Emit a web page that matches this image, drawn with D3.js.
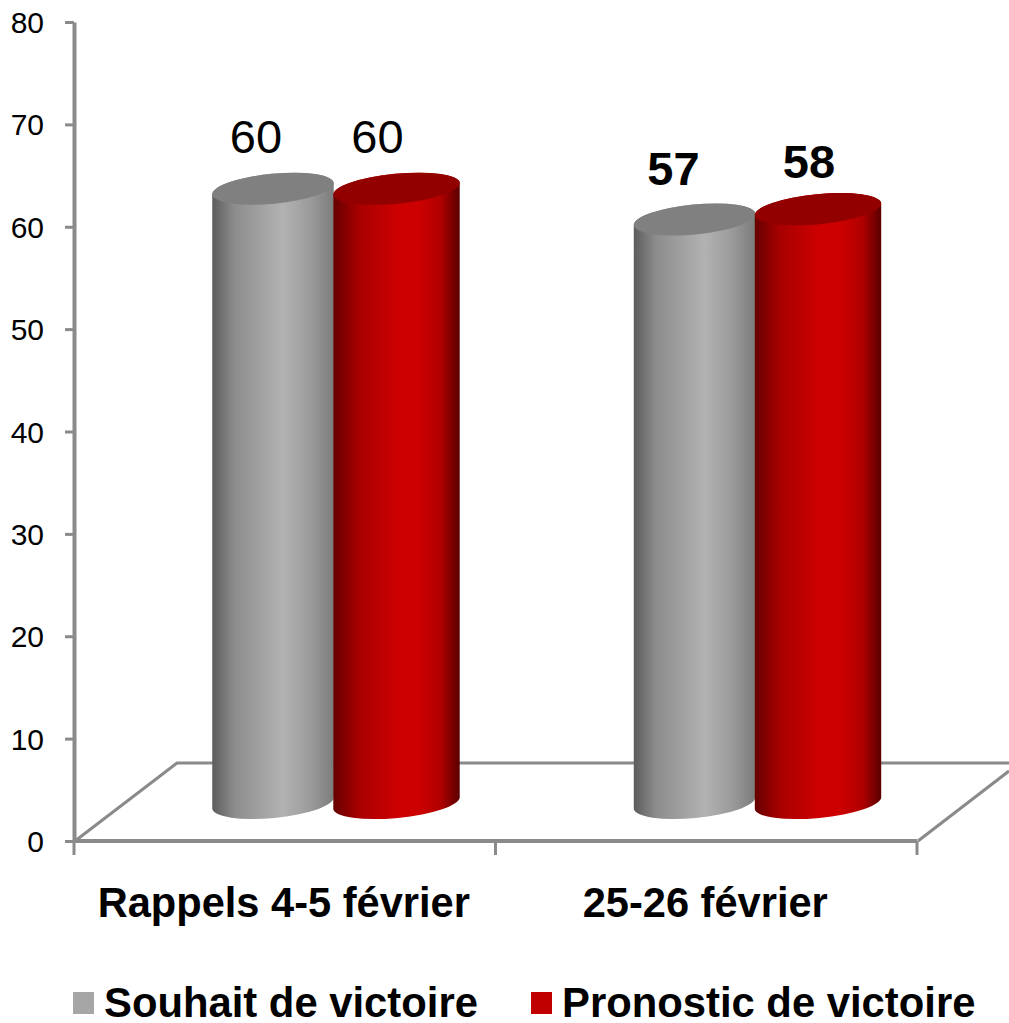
<!DOCTYPE html>
<html>
<head>
<meta charset="utf-8">
<script src="https://cdn.jsdelivr.net/npm/d3@7"></script>
<style>
  html, body { margin: 0; padding: 0; background: #fff; }
  text { font-family: "Liberation Sans", Arial, sans-serif; fill: #000; }
</style>
</head>
<body>
<div id="chart"></div>
<script>
var categories = ["Rappels 4-5 février", "25-26 février"];
var seriesNames = ["Souhait de victoire", "Pronostic de victoire"];
var souhait = [60, 57];
var pronostic = [60, 58];
var yTicks = [0, 10, 20, 30, 40, 50, 60, 70, 80];

function init(){
    var w = 1009, h = 1023;
    var axisColor = "#8a8a8a";
    var depthY = 38;     // the bars stand this far up the floor
    var tilt = 5.5;      // rotation of the ellipses
    var ry = 15;

    var svg = d3.select("#chart").append("svg")
                .attr("width", w).attr("height", h)
                .style("display", "block");

    var y = d3.scaleLinear().domain([0, 80]).range([841, 22]);
    var x = d3.scaleBand().domain(categories).range([74, 917]);
    var xSeries = d3.scaleBand().domain(seriesNames).range([138, 380]);

    // gradients for the cylinders
    var defs = svg.append("defs");
    var grads = [
        {id: "g0", stops: [[0, "#5c5c5c"], [0.18, "#8c8c8c"], [0.58, "#b2b2b2"], [0.8, "#9c9c9c"], [1, "#7c7c7c"]], top: "#808080", flat: "#a6a6a6"},
        {id: "g1", stops: [[0, "#660000"], [0.2, "#a80000"], [0.5, "#cc0000"], [0.68, "#cc0000"], [0.85, "#b00000"], [1, "#5a0000"]], top: "#930000", flat: "#c00000"}
    ];
    grads.forEach(function(g){
        var lg = defs.append("linearGradient").attr("id", g.id);
        g.stops.forEach(function(s){
            lg.append("stop").attr("offset", s[0]).attr("stop-color", s[1]);
        });
    });

    // floor
    var floor = [
        [[75, 841], [177, 763], [1009, 763]],
        [[918, 841], [1009, 771]]
    ];
    svg.selectAll("path.floor").data(floor).enter().append("path")
        .attr("class", "floor")
        .attr("d", d3.line())
        .attr("fill", "none")
        .attr("stroke", axisColor)
        .attr("stroke-width", 3);

    // axes
    var yAxis = svg.append("g").attr("transform", "translate(74,0)")
        .call(d3.axisLeft(y).tickValues(yTicks).tickSize(9).tickSizeOuter(0).tickPadding(21));
    yAxis.selectAll("text").style("font-size", "30px").attr("fill", "#000").attr("y", 1);
    yAxis.selectAll("line").attr("stroke", axisColor).attr("stroke-width", 3);
    yAxis.select(".domain").attr("stroke", axisColor).attr("stroke-width", 4);

    var xTicks = categories.map(function(c){ return x(c); }).concat([x.range()[1]]);
    var xAxis = svg.append("g").attr("transform", "translate(0," + y(0) + ")");
    xAxis.append("line").attr("x1", x.range()[0]).attr("x2", x.range()[1])
        .attr("stroke", axisColor).attr("stroke-width", 4);
    xAxis.selectAll("line.tick").data(xTicks).enter().append("line")
        .attr("class", "tick")
        .attr("x1", function(d){ return d; }).attr("x2", function(d){ return d; })
        .attr("y1", 0).attr("y2", 14)
        .attr("stroke", axisColor).attr("stroke-width", 3);

    // bars, flattened so each one knows its series and category
    var bars = [];
    categories.forEach(function(c, i){
        bars.push({cat: c, catIndex: i, s: 0, value: souhait[i]});
        bars.push({cat: c, catIndex: i, s: 1, value: pronostic[i]});
    });

    var rad = tilt * Math.PI / 180;

    var groups = svg.selectAll("g.bar").data(bars).enter().append("g").attr("class", "bar");

    function geom(d){
        var bw = d.s ? 127 : 122; // the red ones come out a little wider
        var left = x(d.cat) + xSeries(seriesNames[d.s]);
        var rx = bw / 2;
        return {
            cx: left + rx, rx: rx,
            dx: rx * Math.cos(rad), dy: rx * Math.sin(rad),
            top: y(d.value) - depthY, bottom: y(0) - depthY
        };
    }

    groups.append("path")
        .attr("fill", function(d){ return "url(#g" + d.s + ")"; })
        .attr("d", function(d){
            var g = geom(d);
            return "M" + (g.cx - g.dx) + "," + (g.top + g.dy) +
                   "L" + (g.cx - g.dx) + "," + (g.bottom + g.dy) +
                   "A" + g.rx + "," + ry + " " + (-tilt) + " 0 0 " + (g.cx + g.dx) + "," + (g.bottom - g.dy) +
                   "L" + (g.cx + g.dx) + "," + (g.top - g.dy) +
                   "A" + g.rx + "," + ry + " " + (-tilt) + " 0 0 " + (g.cx - g.dx) + "," + (g.top + g.dy) + "Z";
        });

    groups.append("ellipse")
        .attr("fill", function(d){ return grads[d.s].top; })
        .attr("rx", function(d){ return geom(d).rx; })
        .attr("ry", ry)
        .attr("transform", function(d){
            var g = geom(d);
            return "translate(" + g.cx + "," + g.top + ") rotate(" + (-tilt) + ")";
        });

    // value labels: nudges by hand, the original sits them unevenly
    var nudgeX = [-17, -19, -21, -9];
    var nudgeY = [-74, -74, -72, -69];
    svg.selectAll("text.value").data(bars).enter().append("text")
        .attr("class", "value")
        .attr("x", function(d, i){ return geom(d).cx + nudgeX[i]; })
        .attr("y", function(d, i){ return y(d.value) + nudgeY[i]; })
        .attr("text-anchor", "middle")
        .style("font-size", "47px")
        .style("font-weight", function(d){ return d.catIndex ? "bold" : "normal"; })
        .text(function(d){ return d.value; });

    // category labels
    svg.selectAll("text.cat").data(categories).enter().append("text")
        .attr("class", "cat")
        .attr("x", function(d){ return x(d) + x.bandwidth() / 2 - 1; })
        .attr("y", 917)
        .attr("text-anchor", "middle")
        .style("font-size", "41.6px")
        .style("font-weight", "bold")
        .text(function(d){ return d; });

    // legend
    var legendX = [73, 531];
    var legend = svg.selectAll("g.legend").data(seriesNames).enter().append("g")
        .attr("class", "legend")
        .attr("transform", function(d, i){ return "translate(" + legendX[i] + ",0)"; });
    legend.append("rect")
        .attr("y", 992).attr("width", 21).attr("height", 22)
        .attr("fill", function(d, i){ return grads[i].flat; });
    legend.append("text")
        .attr("x", 31).attr("y", 1017)
        .style("font-size", "41.8px")
        .style("font-weight", "bold")
        .text(function(d){ return d; });
}
window.onload = init;
</script>
</body>
</html>
